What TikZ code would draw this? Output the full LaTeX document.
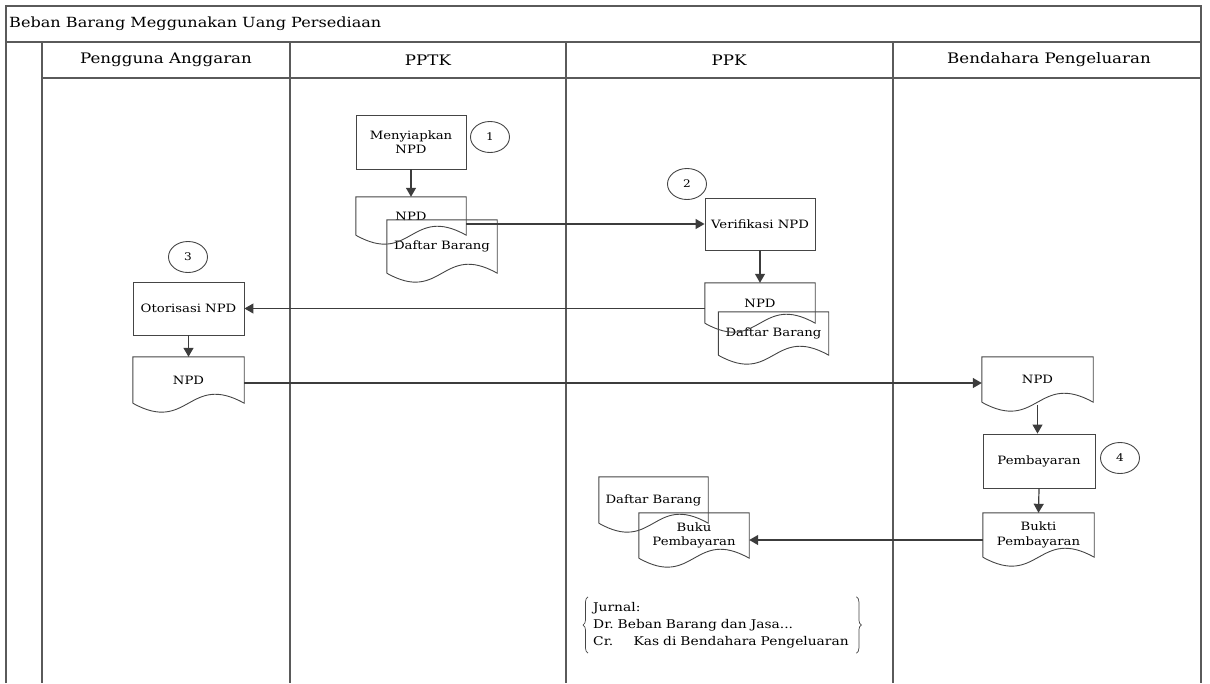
\documentclass[tikz,border=0pt]{standalone}
\usepackage{fontspec}
\setmainfont{DejaVu Serif}[FakeStretch=1.15]
\usetikzlibrary{arrows.meta,calc,shapes.geometric,decorations.pathreplacing}

\definecolor{framegray}{HTML}{5A5A5A}
\definecolor{shapegray}{HTML}{454545}
\definecolor{arrowgray}{HTML}{3C3C3C}

\tikzset{
  frame/.style={draw=framegray, line width=1.6pt},
  lanehead/.style={font=\fontsize{14.5}{16}\selectfont, inner sep=0pt},
  procbox/.style={draw=shapegray, line width=0.9pt, minimum width=110pt,
    align=center, inner sep=2pt, font=\fontsize{11.5}{14.5}\selectfont},
  docnode/.style={minimum width=110pt, align=center, inner sep=2pt,
    font=\fontsize{11.5}{14.5}\selectfont},
  docline/.style={draw=shapegray, line width=0.9pt},
  marker/.style={ellipse, draw=shapegray, line width=0.9pt, minimum width=39pt,
    minimum height=31pt, inner sep=0pt, font=\fontsize{10.5}{12}\selectfont},
  flow/.style={draw=arrowgray, line width=1.2pt, -{Triangle[length=9pt,width=10pt]}},
  bracket/.style={draw=shapegray, line width=0.7pt, decorate,
    decoration={brace, amplitude=5pt}},
}

% outline of a document symbol: straight top and sides, wavy bottom
\newcommand\docoutline[1]{%
  \draw[docline] (#1.south west) -- (#1.north west) -- (#1.north east) -- (#1.south east)
    .. controls ($(#1.south)+(0,-31)$) and ($(#1.south)+(0,31)$) .. (#1.south west);}

\begin{document}
\begin{tikzpicture}[x=1pt,y=-1pt]
\useasboundingbox (0,0) rectangle (1210,683);

% swimlane frame
\draw[frame] (6,683) -- (6,6) -- (1201,6) -- (1201,683);
\draw[frame] (6,42) -- (1201,42);
\draw[frame] (42,78) -- (1201,78);
\foreach \x in {42,290,566,893} \draw[frame] (\x,42) -- (\x,683);

\node[lanehead, anchor=west, font=\fontsize{14}{16}\selectfont] (title) at (9,24) {Beban Barang Meggunakan Uang Persediaan};
\node[lanehead] (laneA) at (166,60) {Pengguna Anggaran};
\node[lanehead] (laneB) at (428,60) {PPTK};
\node[lanehead] (laneC) at (729,60) {PPK};
\node[lanehead] (laneD) at (1049,60) {Bendahara Pengeluaran};

% PPTK
\node[procbox, minimum height=54pt] (prep) at (411,142) {Menyiapkan\\NPD};
\node[marker] (m1) at (490,137) {1};
\node[docnode, minimum height=38pt] (npdA) at (411,216) {NPD};
\node[docnode, minimum height=53pt] (dbA) at (442,246.5) {Daftar Barang};
\docoutline{npdA}
\docoutline{dbA}

% PPK
\node[procbox, minimum height=52pt] (verif) at (760,224) {Verifikasi NPD};
\node[marker] (m2) at (687,184) {2};
\node[docnode, minimum height=40pt] (npdB) at (760,303) {NPD};
\node[docnode, minimum height=43pt] (dbB) at (773.5,333.5) {Daftar Barang};
\docoutline{npdB}
\docoutline{dbB}

% Pengguna Anggaran
\node[procbox, minimum width=111pt, minimum height=53pt] (otor) at (188.5,308.5) {Otorisasi NPD};
\node[marker] (m3) at (188,257) {3};
\node[docnode, minimum width=111pt, minimum height=46pt] (npdC) at (188.5,380) {NPD};
\docoutline{npdC}

% Bendahara Pengeluaran
\node[docnode, minimum width=111pt, minimum height=45pt] (npdD) at (1037.5,379.5) {NPD};
\docoutline{npdD}
\node[procbox, minimum width=112pt, minimum height=54pt] (bayar) at (1039,461) {Pembayaran};
\node[marker] (m4) at (1120,458) {4};
\node[docnode, minimum width=111pt, minimum height=44pt] (bukti) at (1038.5,535) {Bukti\\Pembayaran};
\docoutline{bukti}

% PPK archive
\node[docnode, minimum width=109pt, minimum height=46pt] (dbC) at (653.5,500) {Daftar Barang};
\node[docnode, minimum width=110pt, minimum height=45pt] (buku) at (694,535.5) {Buku\\Pembayaran};
\docoutline{dbC}
\docoutline{buku}

% journal entry
\node[anchor=west, align=left, text width=258pt, inner xsep=5pt, inner ysep=0pt,
  minimum height=56pt, font=\fontsize{12}{17}\selectfont] (jurnal) at (588,625)
  {Jurnal:\\Dr.\ Beban Barang dan Jasa...\\Cr.\hspace{1.7em}Kas di Bendahara Pengeluaran};
\draw[bracket] (jurnal.south west) -- (jurnal.north west);
\draw[bracket] (jurnal.north east) -- (jurnal.south east);

% flows
\draw[flow] (prep.south) -- (npdA.north);
\draw[flow] (verif.west -| npdA.east) -- (verif.west);
\draw[flow] (verif.south) -- (npdB.north);
\draw[flow] (otor.east -| npdB.west) -- (otor.east);
\draw[flow] (otor.south) -- (npdC.north);
\draw[flow] ($(npdC.east)+(0,3)$) -- ($(npdC.east -| npdD.west)+(0,3)$);
\draw[flow] ($(npdD.south)+(0,3)$) -- ($(npdD.south)+(0,15)$) -- (npdD.south |- bayar.north);
\draw[flow] (bayar.south) -- (bukti.north);
\draw[flow] ($(bukti.west)+(0,5)$) -- ($(bukti.west -| buku.east)+(0,5)$);
\end{tikzpicture}
\end{document}
